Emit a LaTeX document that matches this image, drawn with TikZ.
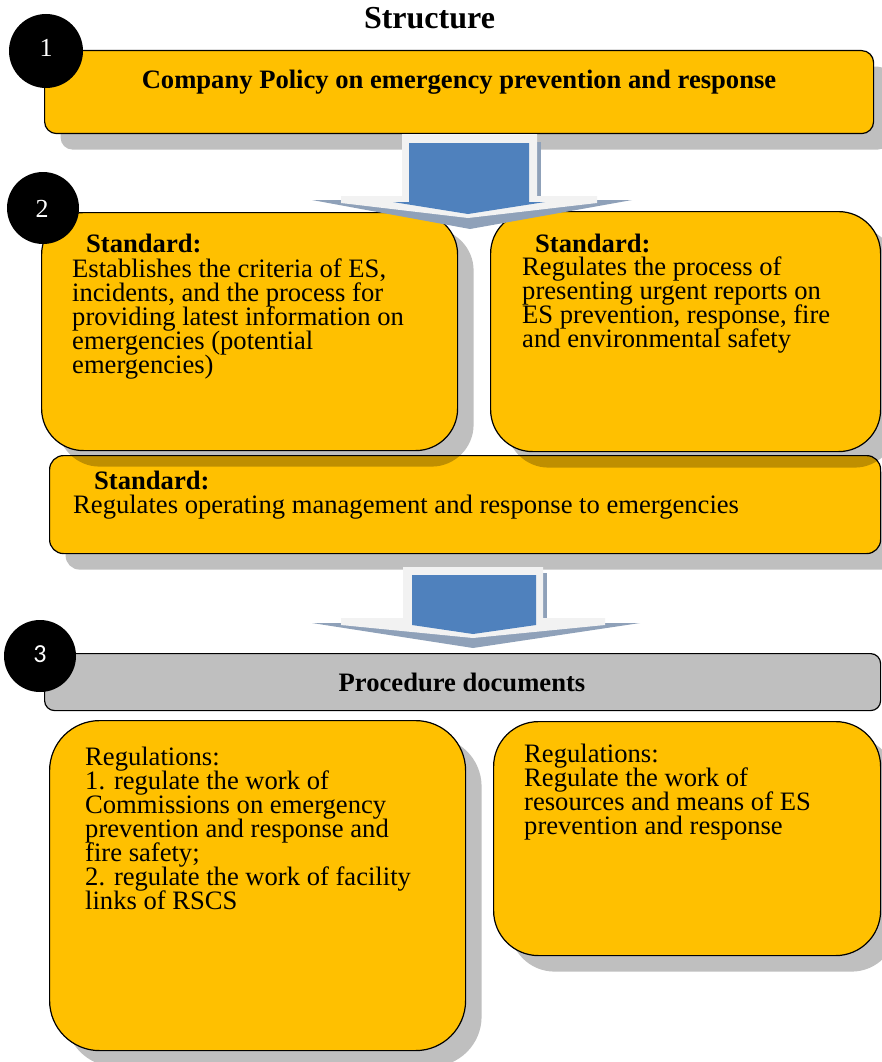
\documentclass[tikz,border=0pt]{standalone}
\usepackage{fontspec}
\setmainfont{Liberation Serif}
\newfontfamily\numsans{Carlito}
\usetikzlibrary{shadows}
\definecolor{boxyellow}{HTML}{FFC000}
\definecolor{docgray}{HTML}{BFBFBF}
\definecolor{arrowblue}{HTML}{4F81BD}
\definecolor{arrowlight}{HTML}{F2F2F2}
\definecolor{arrowshade}{HTML}{8FA1B9}
% left-aligned lines, fixed 24pt apart, baseline = first line
\newcommand\linestack[1]{\vtop{\baselineskip=24pt\lineskiplimit=-30pt\lineskip=0pt
  \halign{##\hfil\cr #1\crcr}}}
\begin{document}
\begin{tikzpicture}[x=1pt,y=-1pt,
  panel/.style={draw=black, line width=1.2pt, fill=boxyellow, inner sep=0pt,
    anchor=north west, shape=rectangle,
    drop shadow={shadow xshift=16pt, shadow yshift=-16pt, fill=black, opacity=0.25}},
  docbar/.style={draw=black, line width=1.2pt, fill=docgray, inner sep=0pt,
    anchor=north west, shape=rectangle},
  bodytext/.style={anchor=base west, inner sep=0pt,
    font=\fontsize{26.6}{24}\selectfont},
  headtext/.style={anchor=base west, inner sep=0pt,
    font=\fontsize{26.6}{24}\selectfont\bfseries},
  centertext/.style={anchor=base, inner sep=0pt,
    font=\fontsize{26.6}{24}\selectfont\bfseries},
  badge/.style={circle, fill=black, inner sep=0pt, minimum size=#1},
  badgenum/.style={text=white, inner sep=0pt, font=\fontsize{26}{26}\selectfont},
]
\useasboundingbox (0,0) rectangle (881,1062);

% heading
\node[anchor=base, inner sep=0pt, font=\fontsize{32}{32}\selectfont\bfseries]
  (title) at (429.5,29) {Structure};

% level 1
\node[panel, rounded corners=12pt, minimum width=829pt, minimum height=83pt]
  (policy) at (44,50) {};
\node[centertext] (policytxt) at (459,89)
  {Company Policy on emergency prevention and response};

% level 2
\node[panel, rounded corners=14pt, minimum width=831pt, minimum height=98pt]
  (stdB) at (49,455) {};
\node[panel, rounded corners=42pt, minimum width=416pt, minimum height=238pt]
  (stdL) at (41,212) {};
\node[panel, rounded corners=42pt, minimum width=390pt, minimum height=240pt]
  (stdR) at (490,211) {};

\node[headtext] (stdLhead) at (86,252) {Standard:};
\node[bodytext] (stdLbody) at (72,277) {\linestack{%
  Establishes the criteria of ES,\cr
  incidents, and the process for\cr
  providing latest information on\cr
  emergencies (potential\cr
  emergencies)}};

\node[headtext] (stdRhead) at (535,252) {Standard:};
\node[bodytext] (stdRbody) at (522,275) {\linestack{%
  Regulates the process of\cr
  presenting urgent reports on\cr
  ES prevention, response, fire\cr
  and environmental safety}};

\node[headtext] (stdBhead) at (94,489) {Standard:};
\node[bodytext] (stdBbody) at (73,513)
  {Regulates operating management and response to emergencies};

% level 3
\node[docbar, rounded corners=10pt, minimum width=836pt, minimum height=57pt]
  (docs) at (44,653) {};
\node[centertext] (docstxt) at (462,691) {Procedure documents};

\node[panel, rounded corners=50pt, minimum width=416pt, minimum height=330pt]
  (regL) at (49,720) {};
\node[panel, rounded corners=45pt, minimum width=387pt, minimum height=234pt]
  (regR) at (493,721) {};

\node[bodytext] (regLbody) at (85,765) {\linestack{%
  Regulations:\cr
  1. regulate the work of\cr
  Commissions on emergency\cr
  prevention and response and\cr
  fire safety;\cr
  2. regulate the work of facility\cr
  links of RSCS}};

\node[bodytext] (regRbody) at (524,762) {\linestack{%
  Regulations:\cr
  Regulate the work of\cr
  resources and means of ES\cr
  prevention and response}};

% block arrow between level 1 and level 2
\fill[arrowshade] (312,200) -- (632,200) -- (470,229) -- cycle;
\fill[arrowshade] (536,142) rectangle (541,200);
\fill[arrowlight] (402,134) -- (537,134) -- (537,196) -- (597,196) -- (597,203)
  -- (468,218) -- (341,203) -- (341,196) -- (402,196) -- cycle;
\fill[arrowblue] (409,143) -- (529,143) -- (529,202) -- (545,202) -- (468,214)
  -- (393,202) -- (409,202) -- cycle;

% block arrow between level 2 and level 3
\fill[arrowshade] (312,623) -- (640,623) -- (473,648) -- cycle;
\fill[arrowshade] (542,573) rectangle (547,620);
\fill[arrowlight] (403,567) -- (543,567) -- (543,618) -- (605,618) -- (605,625)
  -- (473,638) -- (341,625) -- (341,618) -- (403,618) -- cycle;
\fill[arrowblue] (412,575) -- (536,575) -- (536,625) -- (473,634) -- (412,625) -- cycle;

% level badges
\node[badge=74pt] (b1) at (46,51) {};
\node[badgenum] (n1) at (46,48) {1};
\node[badge=72pt] (b2) at (43,208) {};
\node[badgenum] (n2) at (42,209) {2};
\node[badge=72pt] (b3) at (40,656) {};
\node[badgenum, font=\numsans\fontsize{26}{26}\selectfont] (n3) at (40,654) {3};
\end{tikzpicture}
\end{document}
